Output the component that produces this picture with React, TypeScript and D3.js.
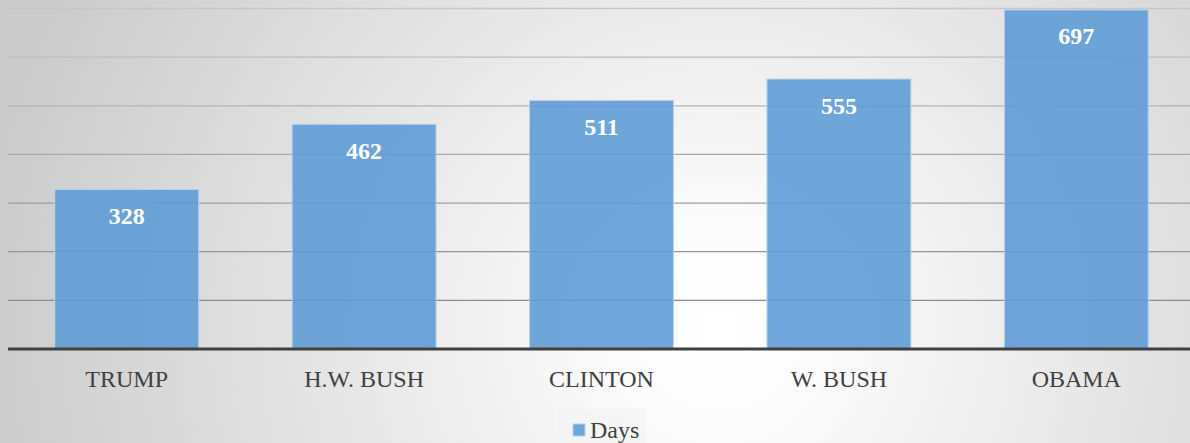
import React from "react";
import * as d3 from "d3";

const categories = ["TRUMP", "H.W. BUSH", "CLINTON", "W. BUSH", "OBAMA"];
const days = [328, 462, 511, 555, 697];
const yTicks = [100, 200, 300, 400, 500, 600, 700];
const seriesName = "Days";

const W = 1190;
const H = 443;
const FONT = "'Liberation Serif', 'Times New Roman', Times, serif";

export default function App() {
  const x = d3.scaleBand<string>().domain(categories).range([8, 1195]).paddingInner(0.394).paddingOuter(0.197);
  const y = d3.scaleLinear().domain([0, 700]).range([349, 8.5]);
  const gridColor = d3.scaleLinear<string>().domain([700, 100]).range(["#c6c6c6", "#8c8c8c"]);
  return (
    <svg width={W} height={H} style={{ position: "absolute", left: 0, top: 0, display: "block" }}>
      <defs>
        <radialGradient id="bg" gradientUnits="userSpaceOnUse" cx={720} cy={330} r={740}>
          <stop offset="0" stopColor="#ffffff" />
          <stop offset="0.15" stopColor="#fbfbfb" />
          <stop offset="1" stopColor="#cbcbcb" />
        </radialGradient>
      </defs>
      <rect x={0} y={0} width={W} height={H} fill="url(#bg)" />
      {yTicks.map((t) => (
        <line key={t} x1={8} x2={W} y1={y(t)} y2={y(t)} stroke={gridColor(t)} strokeWidth={1.3} />
      ))}
      {categories.map((c, i) => (
        <rect
          key={c}
          x={x(c)}
          y={y(days[i])}
          width={x.bandwidth()}
          height={y(0) - y(days[i])}
          fill="#5b9bd5"
          fillOpacity={0.88}
          stroke="#b4d2ee"
          strokeWidth={1}
        />
      ))}
      {categories.map((c, i) => (
        <text
          key={"v" + c}
          x={(x(c) as number) + x.bandwidth() / 2}
          y={y(days[i]) + 34.5}
          textAnchor="middle"
          fontFamily={FONT}
          fontWeight="bold"
          fontSize={24}
          fill="#ffffff"
        >
          {days[i]}
        </text>
      ))}
      <line x1={8} x2={W} y1={y(0)} y2={y(0)} stroke="#404040" strokeWidth={3} />
      {categories.map((c) => (
        <text
          key={"l" + c}
          x={(x(c) as number) + x.bandwidth() / 2}
          y={387}
          textAnchor="middle"
          fontFamily={FONT}
          fontSize={24}
          fill="#404040"
        >
          {c}
        </text>
      ))}
      <rect x={558} y={409} width={88} height={34} fill="#f4f4f4" fillOpacity={0.7} />
      <rect x={573} y={424} width={12} height={12} fill="#5b9bd5" fillOpacity={0.88} stroke="#b4d2ee" />
      <text x={590} y={438} fontFamily={FONT} fontSize={24} fill="#404040">
        {seriesName}
      </text>
    </svg>
  );
}
